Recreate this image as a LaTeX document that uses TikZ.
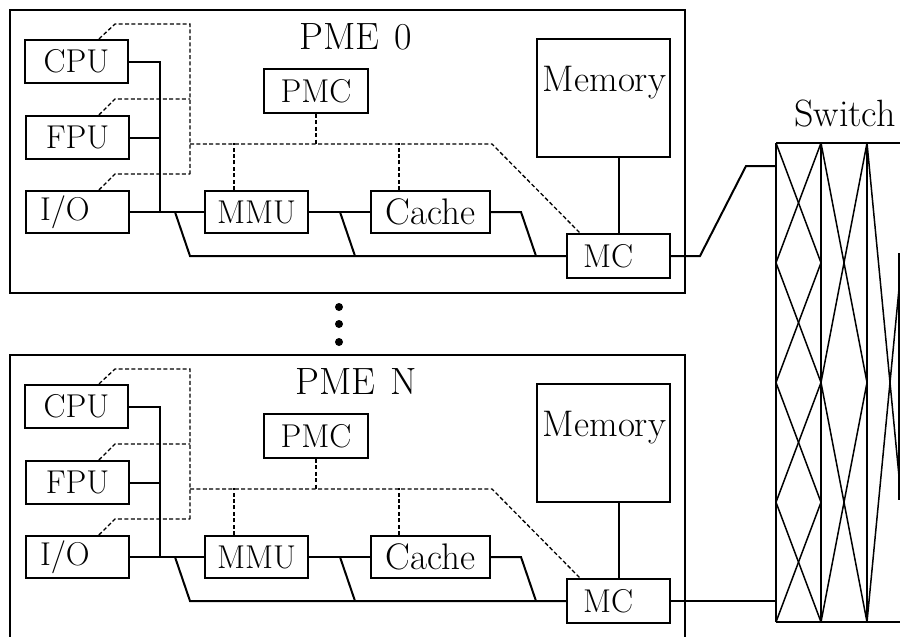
\documentclass[tikz,border=0pt]{standalone}
\usetikzlibrary{calc}

\tikzset{
  frameline/.style={line width=2.1pt},
  unitbox/.style={draw, line width=2.1pt, inner sep=0pt, font=\fontsize{33}{38}\selectfont},
  wordbox/.style={unitbox, font=\fontsize{37}{42}\selectfont},
  wire/.style={line width=2pt},
  ctrl/.style={line width=1.3pt, dash pattern=on 4pt off 2.4pt},
  net/.style={line width=1.5pt},
  title/.style={font=\fontsize{38}{42}\selectfont, inner sep=0pt},
}

% One processor/memory element; #1 = name suffix, #2 = vertical offset, #3 = title
\newcommand\pmeunit[3]{
\begin{scope}[yshift=#2]
  \coordinate (tl#1) at (10,10);
  \coordinate (br#1) at (685,293);
  \draw[frameline] (tl#1) rectangle (br#1);
  \node[title] (title#1) at (356,37) {#3};

  \node[unitbox, minimum width=103pt, minimum height=43pt] (cpu#1) at (76.5,61.5) {CPU};
  \node[unitbox, minimum width=103pt, minimum height=43pt] (fpu#1) at (77.5,137.5) {FPU};
  \node[unitbox, minimum width=103pt, minimum height=42pt, text width=95pt, align=left] (io#1) at (77.5,212) {\hspace*{10pt}I/O};
  \node[unitbox, minimum width=104pt, minimum height=44pt] (pmc#1) at (316,91) {PMC};
  \node[unitbox, minimum width=103pt, minimum height=42pt] (mmu#1) at (256.5,212) {MMU};
  \node[wordbox, minimum width=119pt, minimum height=42pt] (cache#1) at (430.5,212) {Cache};
  \node[draw, line width=2.1pt, minimum width=133pt, minimum height=118pt, inner sep=0pt] (mem#1) at (603.5,98) {};
  \node[font=\fontsize{37}{42}\selectfont, inner sep=0pt, anchor=north] (memlbl#1) at ($(mem#1.north)+(1,28)$) {Memory};
  \node[unitbox, minimum width=103pt, minimum height=44pt, text width=95pt, align=left] (mc#1) at (618.5,256) {\hspace*{12pt}MC};

  % data paths
  \coordinate (cj#1) at (160,61.5);
  \coordinate (fj#1) at (160,137.5);
  \coordinate (ij#1) at (160,212);
  \draw[wire] (cpu#1.east) -- (cj#1) -- (ij#1);
  \draw[wire] (fpu#1.east) -- (fj#1);
  \draw[wire] (io#1.east) -- (mmu#1.west);
  \draw[wire] (mmu#1.east) -- (cache#1.west);
  \coordinate (b1#1) at (175,212);
  \coordinate (b2#1) at (190,256);
  \draw[wire] (b1#1) -- (b2#1) -- (mc#1.west);
  \coordinate (b3#1) at (340,212);
  \coordinate (b4#1) at (355,256);
  \draw[wire] (b3#1) -- (b4#1);
  \coordinate (b5#1) at (521,212);
  \coordinate (b6#1) at (536,256);
  \draw[wire] (cache#1.east) -- (b5#1) -- (b6#1);
  \draw[wire] (mc#1.north |- mem#1.south) -- (mc#1.north);

  % control paths
  \coordinate (cx#1) at (190,24);
  \coordinate (fx#1) at (190,99);
  \coordinate (ix#1) at (190,174);
  \coordinate (hx#1) at (190,144);
  \draw[ctrl] ($(cpu#1.north west)+(75,0)$) -- (115,24) -- (cx#1) -- (ix#1);
  \draw[ctrl] ($(fpu#1.north west)+(74,0)$) -- (115,99) -- (fx#1);
  \draw[ctrl] ($(io#1.north west)+(74,0)$) -- (115,174) -- (ix#1);
  \coordinate (hk#1) at (492,144);
  \draw[ctrl] (hx#1) -- (hk#1) -- ($(mc#1.north west)+(14,0)$);
  \draw[ctrl] (pmc#1.south) -- (pmc#1.south |- hx#1);
  \draw[ctrl] ($(mmu#1.north west)+(30,0)$) -- ++(0,-47);
  \draw[ctrl] ($(cache#1.north west)+(29,0)$) -- ++(0,-47);
\end{scope}
}

\begin{document}
\begin{tikzpicture}[x=1pt, y=-1pt]
  \useasboundingbox (0,0) rectangle (900,637);
  \clip (0,0) rectangle (900,637);

  \pmeunit{a}{0pt}{PME\hspace{0.4em}0}
  \pmeunit{b}{-345pt}{PME\hspace{0.4em}N}

  % ellipsis between the elements
  \foreach \yy [count=\k] in {307,324,342}
    \fill (339,\yy) circle[radius=4] coordinate (dot\k);

  % interconnection switch
  \node[font=\fontsize{38}{42}\selectfont, inner sep=0pt] (swlbl) at (845,114) {Switch};
  \coordinate (sw) at (776,143);
  \coordinate (swb) at (776,622);
  \draw[net, line width=2pt] (swb) -- (sw);
  \draw[net, line width=1.8pt] (sw) -- (905,143);
  \draw[net, line width=1.8pt] (swb) -- (905,622);
  \draw[net] (821,143) -- (821,622);
  \draw[net] (867,143) -- (867,622);
  \draw[net] (899,253) -- (899,500);
  % stage 1
  \draw[net] (776,143) -- (821,262.75) -- (776,382.5) -- (821,502.25) -- (776,622);
  \draw[net] (821,143) -- (776,262.75) -- (821,382.5) -- (776,502.25) -- (821,622);
  % stage 2
  \draw[net] (821,143) -- (867,382.5) -- (821,622);
  \draw[net] (867,143) -- (821,382.5) -- (867,622);
  % stage 3
  \draw[net] (867,143) -- (913,622);
  \draw[net] (913,143) -- (867,622);

  % links from the memory controllers
  \coordinate (sa) at (776,166);
  \coordinate (sb) at (776,601);
  \draw[wire] (mca.east) -- (700,256) -- (746,166) -- (sa);
  \draw[wire, line width=1.6pt] (mcb.east) -- (sb);
\end{tikzpicture}
\end{document}
